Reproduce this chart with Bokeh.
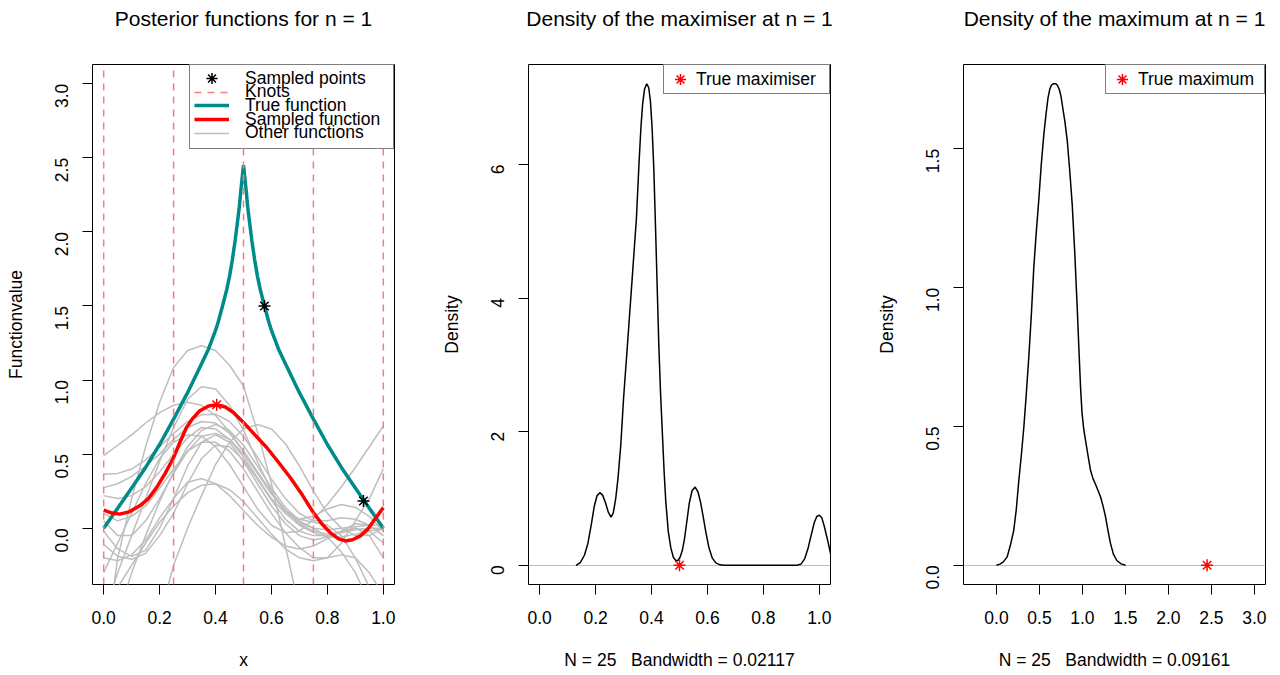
import math
from bokeh.plotting import figure
from bokeh.layouts import row
from bokeh.models import Range1d, FixedTicker, PrintfTickFormatter, Legend, LegendItem, Title
from bokeh.embed import file_html
from bokeh.resources import INLINE

FONT = "Liberation Sans"
TEAL = "#008B8B"
KNOT = "#F08080"
GRAY = "#BEBEBE"

# ---------------- Panel 1 data ----------------
knots = [0.0, 0.25, 0.5, 0.75, 1.0]

true_x = [0.0, 0.05, 0.1, 0.15, 0.2, 0.25, 0.3, 0.35, 0.375, 0.4, 0.41, 0.425, 0.44, 0.45, 0.46, 0.47,
          0.48, 0.485, 0.49, 0.495, 0.5, 0.505, 0.51, 0.515, 0.52, 0.53, 0.54, 0.55, 0.56, 0.575, 0.59,
          0.6, 0.625, 0.65, 0.7, 0.75, 0.8, 0.85, 0.9, 0.95, 1.0]
true_y = [0.0, 0.135, 0.272, 0.41, 0.565, 0.736, 0.915, 1.11, 1.21, 1.335, 1.395, 1.50, 1.61, 1.70, 1.81, 1.94,
          2.09, 2.17, 2.27, 2.36, 2.45, 2.36, 2.27, 2.17, 2.09, 1.94, 1.81, 1.70, 1.61, 1.50, 1.395,
          1.335, 1.21, 1.11, 0.915, 0.736, 0.565, 0.41, 0.272, 0.135, 0.0]

sampled_x = [0.0, 0.03, 0.057, 0.09, 0.129, 0.16, 0.189, 0.22, 0.25, 0.275, 0.296, 0.32, 0.344, 0.375, 0.404,
             0.435, 0.464, 0.5, 0.54, 0.583, 0.625, 0.667, 0.71, 0.75, 0.78, 0.81, 0.84, 0.864, 0.89, 0.918,
             0.945, 0.965, 0.985, 1.0]
sampled_y = [0.122, 0.102, 0.095, 0.11, 0.151, 0.2, 0.274, 0.37, 0.477, 0.59, 0.68, 0.745, 0.793, 0.825, 0.833,
             0.818, 0.781, 0.714, 0.632, 0.545, 0.445, 0.342, 0.225, 0.105, 0.03, -0.03, -0.072, -0.086, -0.078,
             -0.052, -0.005, 0.049, 0.1, 0.139]

points_x = [0.575, 0.929]
points_y = [1.50, 0.184]
sample_max_x = [0.404]
sample_max_y = [0.833]

grid_x = [0.0, 0.05, 0.1, 0.15, 0.2, 0.25, 0.3, 0.35, 0.4, 0.45, 0.5,
          0.55, 0.6, 0.65, 0.7, 0.75, 0.8, 0.85, 0.9, 0.95, 1.0]
other_01 = [-0.9, -0.2, 0.2, 0.55, 0.85, 1.085, 1.2, 1.232, 1.2, 1.1, 0.96, 0.65, 0.3, -0.12, -0.55, -1.0, -1.4, -1.8, -2.2, -2.6, -3.0]
other_02 = [-0.6, -0.3, -0.05, 0.2, 0.45, 0.68, 0.87, 0.955, 0.94, 0.83, 0.66, 0.45, 0.25, 0.1, 0.02, -0.03, -0.06, -0.06, -0.04, -0.02, 0.0]
other_03 = [0.49, 0.56, 0.63, 0.71, 0.78, 0.83, 0.85, 0.83, 0.76, 0.65, 0.52, 0.38, 0.24, 0.12, 0.04, 0.0, -0.01, 0.0, 0.01, 0.02, 0.02]
other_04 = [0.365, 0.37, 0.4, 0.46, 0.55, 0.64, 0.72, 0.765, 0.77, 0.72, 0.62, 0.48, 0.33, 0.2, 0.1, 0.05, 0.05, 0.07, 0.06, 0.02, -0.05]
other_05 = [0.274, 0.3, 0.35, 0.42, 0.5, 0.6, 0.68, 0.72, 0.71, 0.64, 0.52, 0.38, 0.24, 0.12, 0.03, -0.02, -0.04, -0.03, -0.01, 0.0, 0.0]
other_06 = [0.22, 0.2, 0.22, 0.28, 0.38, 0.5, 0.61, 0.68, 0.67, 0.6, 0.48, 0.34, 0.2, 0.1, 0.06, 0.08, 0.13, 0.16, 0.14, 0.08, -0.02]
other_07 = [-0.02, -0.14, -0.19, -0.15, 0.0, 0.2, 0.42, 0.58, 0.63, 0.58, 0.45, 0.3, 0.15, 0.03, -0.05, -0.08, -0.06, -0.02, 0.0, -0.05, -0.2]
other_08 = [-0.11, -0.19, -0.21, -0.17, -0.05, 0.1, 0.3, 0.47, 0.56, 0.55, 0.46, 0.33, 0.19, 0.06, -0.02, -0.05, -0.05, -0.02, 0.03, 0.02, -0.05]
other_09 = [-0.2, -0.22, -0.18, -0.08, 0.07, 0.2, 0.31, 0.335, 0.3, 0.22, 0.12, 0.02, -0.06, -0.12, -0.14, -0.12, -0.07, -0.02, 0.0, -0.02, -0.1]
other_10 = [-0.6, -0.4, -0.25, -0.1, 0.04, 0.15, 0.24, 0.29, 0.3, 0.26, 0.18, 0.07, -0.04, -0.14, -0.2, -0.22, -0.2, -0.18, -0.2, -0.3, -0.45]
other_11 = [-2.0, -1.7, -1.4, -1.1, -0.6, -0.25, 0.0, 0.22, 0.43, 0.58, 0.67, 0.70, 0.67, 0.57, 0.42, 0.25, 0.1, 0.0, -0.05, -0.05, 0.0]
other_12 = [-0.3, -0.1, 0.1, 0.3, 0.47, 0.58, 0.63, 0.62, 0.55, 0.43, 0.28, 0.13, 0.02, -0.03, -0.02, 0.06, 0.16, 0.28, 0.41, 0.55, 0.69]
other_13 = [0.1, 0.05, 0.08, 0.15, 0.27, 0.4, 0.52, 0.58, 0.58, 0.52, 0.4, 0.25, 0.1, -0.03, -0.13, -0.2, -0.2, -0.1, 0.05, 0.2, 0.4]
other_14 = [0.05, -0.05, -0.05, 0.05, 0.2, 0.37, 0.52, 0.62, 0.64, 0.6, 0.5, 0.37, 0.23, 0.12, 0.06, 0.04, 0.02, -0.05, -0.2, -0.4, -0.7]
other_15 = [-1.0, -0.6, -0.3, -0.05, 0.18, 0.38, 0.55, 0.66, 0.7, 0.66, 0.56, 0.42, 0.27, 0.14, 0.05, 0.0, -0.06, -0.16, -0.3, -0.5, -0.75]
others = [other_01, other_02, other_03, other_04, other_05, other_06, other_07, other_08,
          other_09, other_10, other_11, other_12, other_13, other_14, other_15]

# ---------------- Panel 2 data ----------------
maximiser_x = [0.13, 0.145, 0.16, 0.172, 0.185, 0.195, 0.205, 0.215, 0.225, 0.235, 0.245, 0.255, 0.263, 0.272,
               0.28, 0.29, 0.3, 0.314, 0.33, 0.346, 0.355, 0.362, 0.368, 0.375, 0.383, 0.39, 0.396, 0.402,
               0.408, 0.414, 0.42, 0.426, 0.432, 0.439, 0.445, 0.451, 0.46, 0.469, 0.478, 0.487, 0.494, 0.502,
               0.51, 0.518, 0.527, 0.535, 0.545, 0.556, 0.566, 0.576, 0.585, 0.594, 0.605, 0.617, 0.63, 0.645,
               0.66, 0.8, 0.92, 0.935, 0.948, 0.96, 0.972, 0.982, 0.991, 1.0, 1.009, 1.018, 1.03, 1.041, 1.05]
maximiser_y = [0.0, 0.04, 0.15, 0.32, 0.62, 0.88, 1.04, 1.087, 1.05, 0.94, 0.8, 0.72, 0.78, 1.0,
               1.3, 1.8, 2.5, 3.31, 4.25, 5.2, 6.0, 6.55, 6.9, 7.13, 7.21, 7.15, 6.95, 6.55,
               5.95, 5.1, 4.2, 3.3, 2.6, 1.95, 1.4, 0.95, 0.5, 0.26, 0.12, 0.07, 0.07, 0.12,
               0.22, 0.4, 0.68, 0.93, 1.12, 1.17, 1.1, 0.93, 0.72, 0.5, 0.27, 0.11, 0.035, 0.006,
               0.0, 0.0, 0.0, 0.02, 0.1, 0.26, 0.47, 0.64, 0.73, 0.75, 0.71, 0.58, 0.37, 0.16, 0.05]
true_maximiser = [0.5]

# ---------------- Panel 3 data ----------------
maximum_x = [0.0, 0.04, 0.08, 0.124, 0.16, 0.2, 0.23, 0.26, 0.29, 0.318, 0.345, 0.376, 0.405, 0.434, 0.463,
             0.493, 0.52, 0.551, 0.58, 0.6, 0.62, 0.64, 0.665, 0.69, 0.71, 0.73, 0.75, 0.77, 0.795, 0.823,
             0.85, 0.881, 0.91, 0.939, 0.96, 0.978, 0.995, 1.015, 1.036, 1.065, 1.094, 1.123, 1.152, 1.18,
             1.211, 1.24, 1.269, 1.3, 1.327, 1.36, 1.4, 1.45, 1.502]
maximum_y = [0.0, 0.004, 0.012, 0.03, 0.07, 0.125, 0.2, 0.306, 0.4, 0.497, 0.61, 0.75, 0.9, 1.073, 1.2,
             1.32, 1.44, 1.553, 1.635, 1.685, 1.715, 1.73, 1.735, 1.735, 1.728, 1.715, 1.69, 1.65, 1.6, 1.53,
             1.43, 1.3, 1.13, 0.93, 0.77, 0.64, 0.55, 0.49, 0.45, 0.395, 0.342, 0.312, 0.292, 0.27,
             0.246, 0.213, 0.174, 0.12, 0.078, 0.04, 0.017, 0.005, 0.0]
true_maximum = [2.45]

p1_xticks = [0.0, 0.2, 0.4, 0.6, 0.8, 1.0]
p1_yticks = [0.0, 0.5, 1.0, 1.5, 2.0, 2.5, 3.0]
p2_xticks = [0.0, 0.2, 0.4, 0.6, 0.8, 1.0]
p2_yticks = [0, 2, 4, 6]
p3_xticks = [0.0, 0.5, 1.0, 1.5, 2.0, 2.5, 3.0]
p3_yticks = [0.0, 0.5, 1.0, 1.5]

TICK_FS = "17.5px"
TITLE_FS = "21px"
FIG_H = 675
TOP, BOTTOM = 64, 91
FRAME_H = FIG_H - TOP - BOTTOM


def make_fig(width, left, right, xr, yr, title, xlabel, ylabel, xt, yt, xfmt, yfmt):
    p = figure(width=width, height=FIG_H, x_range=Range1d(*xr), y_range=Range1d(*yr),
               output_backend="svg", toolbar_location=None, title=None,
               x_axis_label=xlabel, y_axis_label=ylabel,
               min_border_left=left, min_border_right=right, min_border_top=TOP, min_border_bottom=BOTTOM)
    p.grid.visible = False
    p.outline_line_color = "black"
    p.outline_line_width = 1
    p.outline_line_alpha = 1
    p.background_fill_color = "white"
    p.border_fill_color = "white"
    # spacer (closest to the frame) then the real title further out
    p.add_layout(Title(text=" ", text_font=FONT, text_font_size=TITLE_FS, standoff=10), "above")
    p.add_layout(Title(text=title, align="center", text_font=FONT, text_font_size=TITLE_FS,
                       text_font_style="normal", text_color="black", standoff=0), "above")
    for ax in (p.xaxis[0], p.yaxis[0]):
        ax.axis_line_color = None
        ax.major_tick_out = 10
        ax.major_tick_in = 0
        ax.major_tick_line_color = "black"
        ax.major_tick_line_width = 1
        ax.minor_tick_line_color = None
        ax.major_label_text_font = FONT
        ax.major_label_text_font_size = TICK_FS
        ax.major_label_text_color = "black"
        ax.axis_label_text_font = FONT
        ax.axis_label_text_font_size = TICK_FS
        ax.axis_label_text_font_style = "normal"
        ax.axis_label_text_color = "black"
    p.xaxis[0].ticker = FixedTicker(ticks=xt)
    p.yaxis[0].ticker = FixedTicker(ticks=yt)
    p.xaxis[0].formatter = PrintfTickFormatter(format=xfmt)
    p.yaxis[0].formatter = PrintfTickFormatter(format=yfmt)
    p.yaxis[0].major_label_orientation = math.pi / 2
    p.xaxis[0].major_label_standoff = 16
    p.xaxis[0].axis_label_standoff = 23
    p.yaxis[0].major_label_standoff = 21
    p.yaxis[0].axis_label_standoff = 20
    return p


def legend_box(items, **kw):
    opts = dict(location="top_right", margin=0, spacing=0,
                label_text_font=FONT, label_text_font_size=TICK_FS, label_text_color="black",
                border_line_color="black", border_line_width=1,
                background_fill_color="white", background_fill_alpha=1)
    opts.update(kw)
    return Legend(items=items, **opts)


# ---------------- Panel 1 ----------------
p1_xr = (-0.04, 1.04)
p1_yr = (-0.38, 3.13)
P1_LEFT, P1_RIGHT, P1_W = 92, 33, 427
p1 = make_fig(P1_W, P1_LEFT, P1_RIGHT, p1_xr, p1_yr, "Posterior functions for n = 1",
              "x", "Functionvalue", p1_xticks, p1_yticks, "%.1f", "%.1f")
gray_renderers = []
for ys in others:
    gray_renderers.append(p1.line(grid_x, ys, line_color=GRAY, line_width=1.5))
r_true = p1.line(true_x, true_y, line_color=TEAL, line_width=3.5)
r_samp = p1.line(sampled_x, sampled_y, line_color="red", line_width=3.5)
r_knots = p1.segment(x0=knots, x1=knots, y0=[p1_yr[0]] * len(knots), y1=[p1_yr[1]] * len(knots),
                     line_color=KNOT, line_width=1.5, line_dash="7 6")
r_pts = p1.scatter(points_x, points_y, marker="asterisk", size=12, line_color="black", line_width=1.5)
p1.scatter(sample_max_x, sample_max_y, marker="asterisk", size=12, line_color="red", line_width=1.5)

# legend frame (white box with border)
BOX_W, BOX_H = 203, 83
r_blank = p1.line(x=[], y=[], line_alpha=0)
p1.add_layout(legend_box([LegendItem(label=" ", renderers=[r_blank])], padding=0,
                         glyph_width=54, glyph_height=BOX_H, label_height=BOX_H,
                         label_width=BOX_W - 54, label_standoff=0))

# legend entries, tightly spaced like R's legend
frame_w = P1_W - P1_LEFT - P1_RIGHT
entry_left = frame_w - BOX_W + 3
entry_items = [("Sampled points", r_pts, 14.0, 28),
               ("Knots", r_knots, 27.7, 21),
               ("True function", r_true, 41.4, 21),
               ("Sampled function", r_samp, 55.1, 21),
               ("Other functions", gray_renderers[0], 68.8, 21)]
for label, rend, center, h in entry_items:
    gh = 28 if h == 28 else 14
    p1.add_layout(Legend(items=[LegendItem(label=label, renderers=[rend])],
                         location=(entry_left, FRAME_H - center - h / 2), margin=0, padding=0, spacing=0,
                         glyph_width=35, glyph_height=gh, label_height=14, label_width=60,
                         label_standoff=16, label_text_font=FONT, label_text_font_size=TICK_FS,
                         label_text_color="black", border_line_color=None, background_fill_alpha=0))

# ---------------- Panel 2 ----------------
p2 = make_fig(427, 101, 24, (-0.04, 1.04), (-0.288, 7.498), "Density of the maximiser at n = 1",
              "N = 25 \u00a0 Bandwidth = 0.02117", "Density", p2_xticks, p2_yticks, "%.1f", "%d")
p2.hspan(y=[0], line_color=GRAY, line_width=1)
p2.line(maximiser_x, maximiser_y, line_color="black", line_width=1.5)
r_tm = p2.scatter(true_maximiser, [0], marker="asterisk", size=12, line_color="red", line_width=1.5)
p2.add_layout(legend_box([LegendItem(label="True maximiser", renderers=[r_tm])],
                         padding=0, glyph_width=32, glyph_height=28, label_height=28,
                         label_width=133, label_standoff=0))

# ---------------- Panel 3 ----------------
p3 = make_fig(426, 109, 15, (-0.384, 3.13), (-0.0694, 1.804), "Density of the maximum at n = 1",
              "N = 25 \u00a0 Bandwidth = 0.09161", "Density", p3_xticks, p3_yticks, "%.1f", "%.1f")
p3.hspan(y=[0], line_color=GRAY, line_width=1)
p3.line(maximum_x, maximum_y, line_color="black", line_width=1.5)
r_tx = p3.scatter(true_maximum, [0], marker="asterisk", size=12, line_color="red", line_width=1.5)
p3.add_layout(legend_box([LegendItem(label="True maximum", renderers=[r_tx])],
                         padding=0, glyph_width=32, glyph_height=28, label_height=28,
                         label_width=126, label_standoff=0))

layout = row(p1, p2, p3, spacing=0)
with open("out.html", "w") as f:
    f.write(file_html(layout, INLINE))
